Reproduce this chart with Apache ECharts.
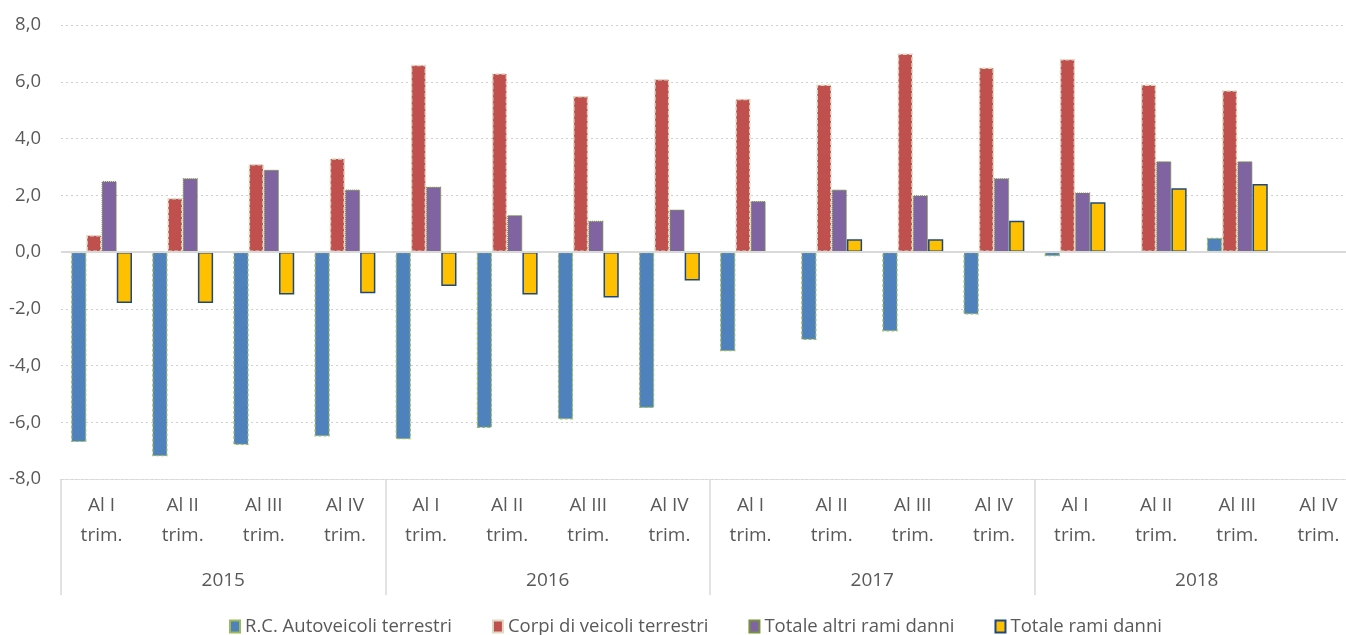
<!DOCTYPE html>
<html>
<head>
<meta charset="utf-8">
<script src="https://cdn.jsdelivr.net/npm/echarts@6/dist/echarts.min.js"></script>
<style>
  html, body { margin: 0; padding: 0; background: #fff; }
  #chart { width: 1346px; height: 635px; }
</style>
</head>
<body>
<div id="chart"></div>
<script>
const quarters = [
  'Al I\ntrim.', 'Al II\ntrim.', 'Al III\ntrim.', 'Al IV\ntrim.',
  'Al I\ntrim.', 'Al II\ntrim.', 'Al III\ntrim.', 'Al IV\ntrim.',
  'Al I\ntrim.', 'Al II\ntrim.', 'Al III\ntrim.', 'Al IV\ntrim.',
  'Al I\ntrim.', 'Al II\ntrim.', 'Al III\ntrim.', 'Al IV\ntrim.'
];
const years = ['2015', '2016', '2017', '2018'];
const yTicks = { min: -8, max: 8, interval: 2 };

const rcAuto = [-6.7, -7.2, -6.8, -6.5, -6.6, -6.2, -5.9, -5.5, -3.5, -3.1, -2.8, -2.2, -0.15, null, 0.5, null];
const corpi = [0.6, 1.9, 3.1, 3.3, 6.6, 6.3, 5.5, 6.1, 5.4, 5.9, 7.0, 6.5, 6.8, 5.9, 5.7, null];
const altriRami = [2.5, 2.6, 2.9, 2.2, 2.3, 1.3, 1.1, 1.5, 1.8, 2.2, 2.0, 2.6, 2.1, 3.2, 3.2, null];
const totaleRami = [-1.8, -1.8, -1.5, -1.45, -1.2, -1.5, -1.6, -1.0, null, 0.45, 0.45, 1.1, 1.75, 2.25, 2.4, null];

const font = '"Open Sans", Lato, sans-serif';
const textColor = '#595959';

const chart = echarts.init(document.getElementById('chart'));

function bar(name, data, color, borderColor, borderType, borderWidth) {
  return {
    name: name,
    type: 'bar',
    data: data,
    barGap: '0%',
    barCategoryGap: '25%',
    itemStyle: { color: color, borderColor: borderColor, borderType: borderType, borderWidth: borderWidth },
    emphasis: { disabled: true }
  };
}

chart.setOption({
  animation: false,
  textStyle: { fontFamily: font },
  grid: { left: 61, top: 25, width: 1298, height: 454, outerBoundsMode: 'none', containLabel: false },
  legend: {
    bottom: -6,
    left: 224,
    itemWidth: 10,
    itemHeight: 12,
    itemGap: 40,
    textStyle: { fontSize: 18.5, color: textColor, fontFamily: font },
    data: [
      { name: 'R.C. Autoveicoli terrestri', icon: 'rect' },
      { name: 'Corpi di veicoli terrestri', icon: 'rect' },
      { name: 'Totale altri rami danni', icon: 'rect' },
      { name: 'Totale rami danni', icon: 'rect' }
    ]
  },
  xAxis: [
    {
      type: 'category',
      data: quarters,
      position: 'bottom',
      axisLine: { show: true, onZero: false, lineStyle: { color: '#D9D9D9', type: 'dotted' } },
      axisTick: { show: false },
      axisLabel: { color: textColor, fontSize: 19, lineHeight: 30, margin: 12, interval: 0 }
    },
    {
      type: 'category',
      data: years,
      position: 'bottom',
      axisLine: { show: false, onZero: false },
      axisTick: { show: true, inside: false, length: 116, interval: 0, lineStyle: { color: '#D9D9D9', width: 1.5 } },
      axisLabel: { color: textColor, fontSize: 19, margin: 92, interval: 0 }
    }
  ],
  yAxis: {
    type: 'value',
    min: yTicks.min,
    max: yTicks.max,
    interval: yTicks.interval,
    axisLine: { show: false },
    axisTick: { show: false },
    splitLine: { lineStyle: { color: '#D0D0D0', type: [2, 3] } },
    axisLabel: {
      color: textColor,
      fontSize: 18.5,
      margin: 20,
      formatter: function (v) { return v.toFixed(1).replace('.', ','); }
    }
  },
  series: [
    Object.assign(bar('R.C. Autoveicoli terrestri', rcAuto, '#4F81BD', '#9BBB59', [3, 2], 1.2), {
      markLine: {
        silent: true,
        symbol: 'none',
        label: { show: false },
        lineStyle: { color: '#D9D9D9', type: 'solid', width: 2 },
        data: [{ yAxis: 0 }]
      }
    }),
    bar('Corpi di veicoli terrestri', corpi, '#C0504D', '#DDD9C3', [4, 2], 1.5),
    bar('Totale altri rami danni', altriRami, '#8064A2', '#77933C', [1, 1], 1.2),
    bar('Totale rami danni', totaleRami, '#FFC000', '#1F497D', 'solid', 1.5)
  ]
});
</script>
</body>
</html>
